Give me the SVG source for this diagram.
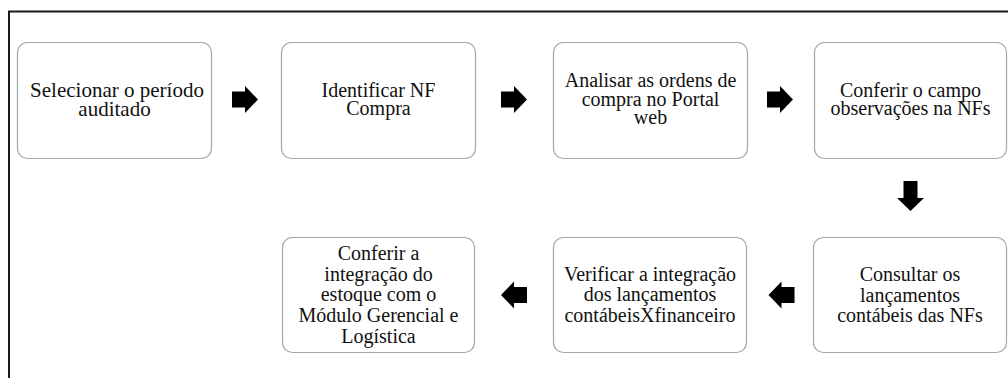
<svg xmlns="http://www.w3.org/2000/svg" width="1008" height="378" viewBox="0 0 1008 378">
<style>
.frame{fill:none;stroke:#1a1a1a;stroke-width:2}
.box{fill:#fff;stroke:#a6a6a6;stroke-width:1.2}
.t text{font-size:20px;fill:#111;text-anchor:middle}
.t text.big{font-size:21px}
.arr{fill:#000}
</style>
<defs>
<path id="ar" d="M-26,-8 H-13 V-13.5 L0,0 L-13,13.5 V8 H-26 Z"/>
</defs>
<rect class="frame" x="9" y="11.5" width="1012" height="380"/>
<g class="t" font-family="Liberation Serif, Times New Roman, DejaVu Serif, serif">
<g id="n1"><rect class="box" x="17.5" y="42.5" width="194" height="116" rx="10"/>
<text class="big" x="117" y="97">Selecionar o período</text><text class="big" x="114.5" y="115.5">auditado</text></g>
<g id="n2"><rect class="box" x="281.5" y="42.5" width="194" height="116" rx="10"/>
<text x="378.5" y="96.5">Identificar NF</text><text x="378.5" y="115">Compra</text></g>
<g id="n3"><rect class="box" x="553.5" y="42.5" width="194" height="116" rx="10"/>
<text x="650.5" y="87">Analisar as ordens de</text><text x="650.5" y="105.5">compra no Portal</text><text x="650.5" y="124">web</text></g>
<g id="n4"><rect class="box" x="814.5" y="42.5" width="192" height="116" rx="10"/>
<text x="910.5" y="96.5">Conferir o campo</text><text x="910.5" y="115">observações na NFs</text></g>
<g id="n5"><rect class="box" x="813.5" y="237.5" width="193" height="115" rx="10"/>
<text x="910" y="281">Consultar os</text><text x="910" y="301.5">lançamentos</text><text x="910" y="322">contábeis das NFs</text></g>
<g id="n6"><rect class="box" x="553.5" y="237.5" width="193" height="115" rx="10"/>
<text x="650" y="280.5">Verificar a integração</text><text x="650" y="301">dos lançamentos</text><text x="650" y="321.5">contábeisXfinanceiro</text></g>
<g id="n7"><rect class="box" x="282.5" y="237.5" width="192" height="115" rx="10"/>
<text x="378.5" y="260">Conferir a</text><text x="378.5" y="280.5">integração do</text><text x="378.5" y="301">estoque com o</text><text x="378.5" y="321.5">Módulo Gerencial e</text><text x="378.5" y="342.5">Logística</text></g>
</g>
<g id="connectors" class="arr">
<use href="#ar" transform="translate(258,99.5)"/>
<use href="#ar" transform="translate(527,99.5)"/>
<use href="#ar" transform="translate(793,99.5)"/>
<path d="M903.5,181 H917.5 V198 H924 L910.5,211 L897,198 H903.5 Z"/>
<use href="#ar" transform="translate(768.5,295) rotate(180)"/>
<use href="#ar" transform="translate(501,295) rotate(180)"/>
</g>
</svg>
